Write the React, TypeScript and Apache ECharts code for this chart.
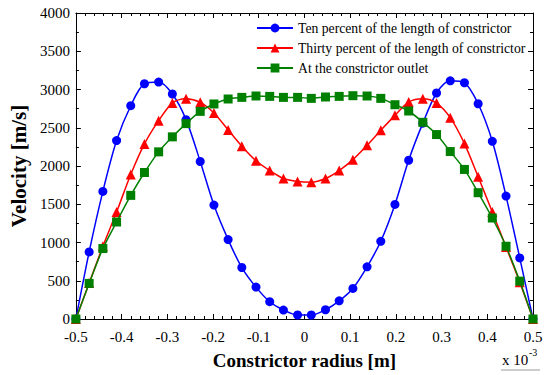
import React, { useEffect, useRef } from "react";
import * as echarts from "echarts";

const radius = [
  -0.5, -0.471, -0.441, -0.411, -0.38, -0.35, -0.319, -0.289, -0.259, -0.228, -0.198, -0.167, -0.137, -0.106, -0.076, -0.046, -0.015,
  0.015, 0.046, 0.076, 0.106, 0.137, 0.167, 0.198, 0.228, 0.259, 0.289, 0.319, 0.35, 0.38, 0.411, 0.441, 0.471, 0.5,
];

const tenPercent = [
  0, 877, 1668, 2332, 2788, 3075, 3097, 2941, 2606, 2059, 1489, 1038, 673, 417, 226, 117, 52,
  52, 121, 238, 400, 682, 1016, 1498, 2075, 2560, 2954, 3114, 3088, 2814, 2323, 1607, 799, 0,
];

const thirtyPercent = [
  0, 470, 950, 1398, 1889, 2289, 2593, 2823, 2880, 2832, 2693, 2472, 2258, 2068, 1941, 1837, 1798,
  1789, 1837, 1941, 2083, 2271, 2467, 2662, 2836, 2880, 2823, 2632, 2293, 1859, 1398, 940, 480, 0,
];

const outlet = [
  0, 465, 921, 1268, 1616, 1915, 2185, 2381, 2554, 2714, 2811, 2876, 2897, 2915, 2910, 2897, 2897,
  2884, 2902, 2910, 2919, 2915, 2884, 2801, 2719, 2571, 2411, 2189, 1955, 1651, 1320, 951, 495, 0,
];

const seriesNames = [
  "Ten percent of the length of constrictor",
  "Thirty percent of the length of constrictor",
  "At the constrictor outlet",
];

const xTitle = "Constrictor radius [m]";
const yTitle = "Velocity [m/s]";
const scaleBase = "x 10";
const scaleExp = "-3";

const FONT = "Liberation Serif, Times New Roman, serif";

function pairs(xs: number[], ys: number[]) {
  return xs.map((x, i) => [x, ys[i]]);
}

export default function App() {
  const ref = useRef<HTMLDivElement>(null);
  useEffect(() => {
    if (!ref.current) return;
    const chart = echarts.init(ref.current, undefined, { renderer: "svg" });
    const axisCommon = {
      axisLine: { show: true, onZero: false, lineStyle: { color: "#000", width: 1 } },
      axisTick: { show: true, inside: true, length: 5, lineStyle: { color: "#000" } },
      splitLine: { show: false },
    };
    chart.setOption({
      animation: false,
      backgroundColor: "#fff",
      textStyle: { fontFamily: FONT },
      grid: { left: 71, right: 17, top: 13, bottom: 55, containLabel: false },
      legend: {
        orient: "vertical",
        left: 251,
        top: 16,
        itemWidth: 36,
        itemHeight: 11,
        itemGap: 6,
        data: seriesNames,
        textStyle: { fontFamily: FONT, fontSize: 13.7, color: "#000" },
      },
      xAxis: [
        {
          type: "value",
          min: -0.5,
          max: 0.5,
          interval: 0.1,
          ...axisCommon,
          minorTick: { show: true, splitNumber: 5, length: 3, lineStyle: { color: "#000" } },
          axisLabel: { fontFamily: FONT, fontSize: 15, color: "#000", margin: 10, formatter: (v: number) => String(Math.round(v * 10) / 10) },
          name: xTitle,
          nameLocation: "middle",
          nameGap: 32,
          nameTextStyle: { fontFamily: FONT, fontSize: 19, fontWeight: "bold", color: "#000" },
        },
        {
          type: "value",
          position: "top",
          min: -0.5,
          max: 0.5,
          interval: 0.1,
          ...axisCommon,
          minorTick: { show: true, splitNumber: 5, length: 3, lineStyle: { color: "#000" } },
          axisLabel: { show: false },
        },
      ],
      yAxis: [
        {
          type: "value",
          min: 0,
          max: 4000,
          interval: 500,
          ...axisCommon,
          minorTick: { show: true, splitNumber: 2, length: 3, lineStyle: { color: "#000" } },
          axisLabel: { fontFamily: FONT, fontSize: 15, color: "#000", margin: 6, formatter: (v: number) => String(v) },
          name: yTitle,
          nameLocation: "middle",
          nameGap: 37,
          nameTextStyle: { fontFamily: FONT, fontSize: 21, fontWeight: "bold", color: "#000" },
        },
        {
          type: "value",
          position: "right",
          min: 0,
          max: 4000,
          interval: 500,
          ...axisCommon,
          minorTick: { show: true, splitNumber: 2, length: 3, lineStyle: { color: "#000" } },
          axisLabel: { show: false },
        },
      ],
      series: [
        {
          name: seriesNames[0],
          type: "line",
          data: pairs(radius, tenPercent),
          smooth: 0.3,
          symbol: "circle",
          symbolSize: 9,
          color: "#0000ff",
          lineStyle: { color: "#0000ff", width: 1.5 },
          itemStyle: { color: "#0000ff" },
          z: 2,
        },
        {
          name: seriesNames[1],
          type: "line",
          data: pairs(radius, thirtyPercent),
          smooth: 0.3,
          symbol: "triangle",
          symbolSize: 10,
          color: "#ff0000",
          lineStyle: { color: "#ff0000", width: 1.5 },
          itemStyle: { color: "#ff0000" },
          z: 3,
        },
        {
          name: seriesNames[2],
          type: "line",
          data: pairs(radius, outlet),
          smooth: 0.3,
          symbol: "rect",
          symbolSize: 9,
          color: "#008000",
          lineStyle: { color: "#008000", width: 1.5 },
          itemStyle: { color: "#008000" },
          z: 4,
        },
      ],
      graphic: [
        {
          type: "text",
          left: 502,
          top: 352,
          style: { text: scaleBase, fontFamily: FONT, fontSize: 15, fill: "#000" },
        },
        {
          type: "text",
          left: 529,
          top: 347,
          style: { text: scaleExp, fontFamily: FONT, fontSize: 10, fill: "#000" },
        },
        {
          type: "line",
          shape: { x1: 501, y1: 370, x2: 540, y2: 370 },
          style: { stroke: "#999", lineWidth: 1 },
        },
      ],
    });
    return () => chart.dispose();
  }, []);
  return (
    <div
      ref={ref}
      style={{ position: "fixed", left: 0, top: 0, width: 550, height: 375 }}
    />
  );
}
